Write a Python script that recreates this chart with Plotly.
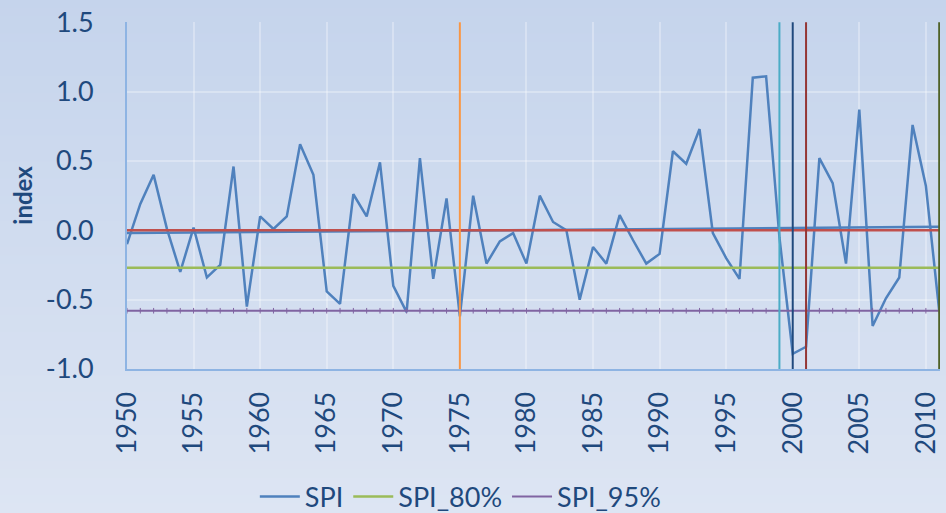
import plotly.graph_objects as go

# annual SPI values
years = list(range(1950, 2012))
spi = [
    -0.10, 0.19, 0.40, 0.01, -0.30, 0.02, -0.34, -0.25, 0.46, -0.55,
    0.10, 0.01, 0.10, 0.62, 0.40, -0.44, -0.53, 0.26, 0.10, 0.49,
    -0.40, -0.59, 0.52, -0.35, 0.23, -0.62, 0.25, -0.24, -0.08, -0.02,
    -0.24, 0.25, 0.06, 0.00, -0.50, -0.12, -0.24, 0.11, -0.07, -0.24,
    -0.17, 0.57, 0.48, 0.73, -0.02, -0.20, -0.35, 1.10, 1.11, -0.05,
    -0.89, -0.84, 0.52, 0.34, -0.24, 0.87, -0.69, -0.49, -0.34, 0.76,
    0.32, -0.58,
]

# reference levels
spi_mean = 0.0
spi_80 = -0.27
spi_95 = -0.58
trend_years = [1950, 2011]
trend_values = [-0.02, 0.025]

# marked years (vertical lines)
mark_years = [1975, 1999, 2000, 2001, 2011]
mark_colors = ['#F79646', '#4BACC6', '#1F497D', '#943634', '#4F6228']

# axis ticks
y_ticks = [-1.0, -0.5, 0.0, 0.5, 1.0, 1.5]
y_labels = ['-1.0', '-0.5', '0.0', '0.5', '1.0', '1.5']
x_ticks = list(range(1950, 2011, 5))

y_min, y_max = -1.0, 1.5
text_color = '#1F497D'
font_family = 'Lato, Open Sans, sans-serif'

fig = go.Figure()

fig.add_trace(go.Scatter(
    x=years, y=spi, name='SPI', mode='lines',
    line=dict(color='#4F81BD', width=2.5),
))
fig.add_trace(go.Scatter(
    x=trend_years, y=trend_values, mode='lines', showlegend=False,
    line=dict(color='#4F81BD', width=2.5),
))
fig.add_trace(go.Scatter(
    x=[years[0], years[-1]], y=[spi_mean, spi_mean], mode='lines', showlegend=False,
    line=dict(color='#C0504D', width=2.5),
))
fig.add_trace(go.Scatter(
    x=years, y=[spi_80] * len(years), name='SPI_80%', mode='lines',
    line=dict(color='#9BBB59', width=2.5),
))
fig.add_trace(go.Scatter(
    x=years, y=[spi_95] * len(years), name='SPI_95%', mode='lines',
    line=dict(color='#8064A2', width=2),
))
fig.add_trace(go.Scatter(
    x=years, y=[spi_95] * len(years), mode='markers', showlegend=False,
    marker=dict(symbol='line-ns', size=4, line=dict(color='#8064A2', width=1)),
))

for yr, col in zip(mark_years, mark_colors):
    fig.add_trace(go.Scatter(
        x=[yr, yr], y=[y_min, y_max], mode='lines', showlegend=False,
        line=dict(color=col, width=2),
    ))

W, H = 946, 513
ml, mr, mt, mb = 127, 6, 22, 144
pw, ph = W - ml - mr, H - mt - mb

# background gradient, drawn as thin stripes behind the plot
top_rgb = (197, 212, 236)
bot_rgb = (221, 229, 243)
n = 60
shapes = []
for i in range(n):
    t = (i + 0.5) / n
    r, g, b = [round(a + (c - a) * t) for a, c in zip(top_rgb, bot_rgb)]
    y_top = H * i / n - 1
    y_bot = H * (i + 1) / n + 1
    shapes.append(dict(
        type='rect', xref='paper', yref='paper', layer='below',
        x0=-ml / pw - 0.01, x1=1 + mr / pw + 0.01,
        y0=(H - mb - y_bot) / ph, y1=(H - mb - y_top) / ph,
        fillcolor=f'rgb({r},{g},{b})', line=dict(width=0),
    ))

fig.update_layout(
    width=W, height=H,
    # keep the legend from pushing the plot area
    margin=dict(l=ml, r=mr, t=mt, b=mb, autoexpand=False),
    paper_bgcolor='rgba(0,0,0,0)',
    plot_bgcolor='rgba(0,0,0,0)',
    font=dict(family=font_family, size=27, color=text_color),
    shapes=shapes,
    hovermode=False,
    legend=dict(
        orientation='h', x=0.41, xanchor='center', y=-0.369, yanchor='middle',
        font=dict(size=27, color=text_color), bgcolor='rgba(0,0,0,0)',
        itemwidth=40, tracegroupgap=0,
    ),
    xaxis=dict(
        range=[1950, 2011.06], tickvals=x_ticks, tickangle=-90,
        showgrid=True, gridcolor='rgba(255,255,255,0.3)', gridwidth=1.5,
        showline=True, linecolor='#8EB4E3', linewidth=2,
        ticks='outside', ticklen=10, tickcolor='rgba(0,0,0,0)',
        zeroline=False, automargin=False,
    ),
    yaxis=dict(
        range=[y_min, y_max + 0.002], tickvals=y_ticks, ticktext=y_labels,
        showgrid=True, gridcolor='rgba(255,255,255,0.3)', gridwidth=1.5,
        showline=True, linecolor='#8EB4E3', linewidth=2,
        ticks='outside', ticklen=26, tickcolor='rgba(0,0,0,0)',
        zeroline=False, automargin=False,
        title=dict(text='<b>index</b>', font=dict(size=24, color=text_color), standoff=6),
    ),
)

# drop the default 8px page margin so the figure fills the window
post = (
    "document.body.style.margin='0';"
    "document.body.style.overflow='hidden';"
    "document.documentElement.style.background="
    "'linear-gradient(rgb(%d,%d,%d), rgb(%d,%d,%d))';" % (top_rgb + bot_rgb)
)
fig.write_html('out.html', config={'displayModeBar': False}, post_script=post)
